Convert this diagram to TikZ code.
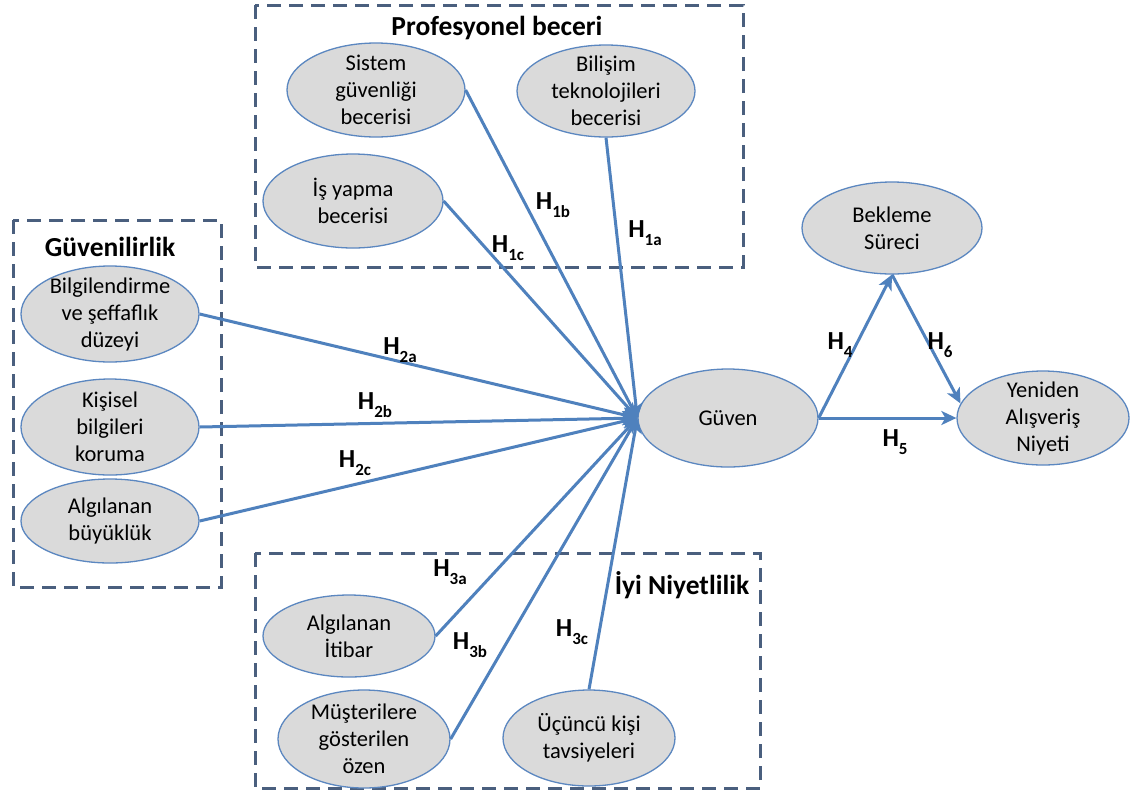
\documentclass[tikz,border=0pt]{standalone}
\usepackage{fontspec}
\setmainfont{Carlito}
\usetikzlibrary{shapes.geometric,arrows.meta}
\definecolor{lineblue}{HTML}{4F81BD}
\definecolor{ellborder}{HTML}{5B87C0}
\definecolor{ellfill}{HTML}{DADADA}
\definecolor{boxcol}{HTML}{4A5F7E}
\newcommand\ellfont{\fontsize{22.5}{27}\selectfont}
\newcommand\titfont{\fontsize{27.5}{32}\selectfont\bfseries}
\newcommand\hypfont{\fontsize{26}{30}\selectfont\bfseries}
\newcommand\hyp[1]{H\raisebox{-0.3em}{\fontsize{17}{17}\selectfont #1}}
\begin{document}
\begin{tikzpicture}[x=1pt,y=-1pt,
  ell/.style={ellipse, draw=ellborder, fill=ellfill, line width=1.3pt, inner sep=0pt},
  etxt/.style={font=\ellfont, align=center, inner sep=0pt},
  conn/.style={draw=lineblue, line width=3pt, -{Stealth[length=15pt,width=14pt,inset=4pt]}},
  grp/.style={draw=boxcol, line width=3pt, dash pattern=on 14pt off 8pt},
  gtitle/.style={font=\titfont, inner sep=0pt},
  hlab/.style={font=\hypfont, inner sep=0pt}]
\useasboundingbox (0,0) rectangle (1131,796);
\fill[white] (0,0) rectangle (1131,796);
% group boxes
\draw[grp] (255,5) rectangle (743,267);
\draw[grp] (13,220) rectangle (221,587);
\draw[grp] (255,553) rectangle (760,788);
\node[gtitle] (tprof) at (497,28) {Profesyonel beceri};
\node[gtitle] (tguv) at (110,247) {Güvenilirlik};
\node[gtitle] (tiyi) at (682,585) {İyi Niyetlilik};
% ellipses
\node[ell, minimum width=178, minimum height=94] (sg) at (376,90) {};
\node[etxt] (sgt) at (sg.center) {Sistem\\güvenliği\\becerisi};
\node[ell, minimum width=178, minimum height=92] (bt) at (606,91) {};
\node[etxt] (btt) at (bt.center) {Bilişim\\teknolojileri\\becerisi};
\node[ell, minimum width=180, minimum height=94] (iy) at (353,201) {};
\node[etxt] (iyt) at (iy.center) {İş yapma\\becerisi};
\node[ell, minimum width=178, minimum height=96] (bg) at (110,314) {};
\node[etxt] (bgt) at (bg.center) {Bilgilendirme\\ve şeffaflık\\düzeyi};
\node[ell, minimum width=178, minimum height=96] (kb) at (110,427) {};
\node[etxt] (kbt) at (kb.center) {Kişisel\\bilgileri\\koruma};
\node[ell, minimum width=178, minimum height=84] (ab) at (110,521) {};
\node[etxt] (abt) at (ab.center) {Algılanan\\büyüklük};
\node[ell, minimum width=180, minimum height=98] (gv) at (728,418) {};
\node[etxt] (gvt) at (gv.center) {Güven};
\node[ell, minimum width=180, minimum height=92] (bk) at (892,228) {};
\node[etxt] (bkt) at (bk.center) {Bekleme\\Süreci};
\node[ell, minimum width=172, minimum height=94] (yn) at (1043,418) {};
\node[etxt] (ynt) at (yn.center) {Yeniden\\Alışveriş\\Niyeti};
\node[ell, minimum width=172, minimum height=82] (ai) at (349,636) {};
\node[etxt] (ait) at (ai.center) {Algılanan\\İtibar};
\node[ell, minimum width=172, minimum height=98] (mg) at (364,739) {};
\node[etxt] (mgt) at (mg.center) {Müşterilere\\gösterilen\\özen};
\node[ell, minimum width=172, minimum height=96] (uk) at (589,738) {};
\node[etxt] (ukt) at (uk.center) {Üçüncü kişi\\tavsiyeleri};
% connectors
\draw[conn] (sg.east) -- (gv.west);
\draw[conn] (bt.south) -- (gv.west);
\draw[conn] (iy.east) -- (gv.west);
\draw[conn] (bg.east) -- (gv.west);
\draw[conn] (kb.east) -- (gv.west);
\draw[conn] (ab.east) -- (gv.west);
\draw[conn] (ai.east) -- (gv.west);
\draw[conn] (mg.east) -- (gv.west);
\draw[conn] (uk.north) -- (gv.west);
\draw[conn] (gv.east) -- (bk.south);
\draw[conn] (bk.south) -- (yn.170);
\draw[conn] (gv.east) -- (yn.west);
% labels
\node[hlab] (h1b) at (553,205) {\hyp{1b}};
\node[hlab] (h1a) at (645,233) {\hyp{1a}};
\node[hlab] (h1c) at (508,248) {\hyp{1c}};
\node[hlab] (h2a) at (400,350) {\hyp{2a}};
\node[hlab] (h2b) at (375,405) {\hyp{2b}};
\node[hlab] (h2c) at (355,463) {\hyp{2c}};
\node[hlab] (h3a) at (450,572) {\hyp{3a}};
\node[hlab] (h3b) at (470,645) {\hyp{3b}};
\node[hlab] (h3c) at (572,632) {\hyp{3c}};
\node[hlab] (h4) at (840,345) {\hyp{4}};
\node[hlab] (h6) at (940,345) {\hyp{6}};
\node[hlab] (h5) at (895,442) {\hyp{5}};
\end{tikzpicture}
\end{document}
